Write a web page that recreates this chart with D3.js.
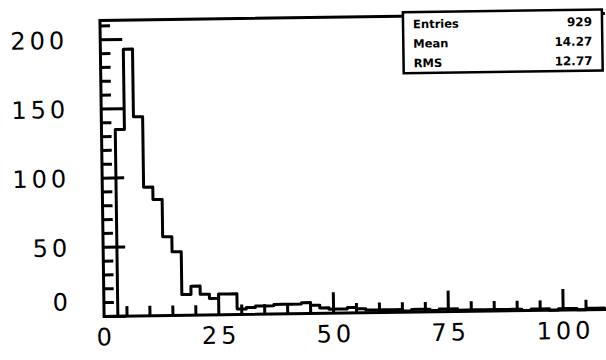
<!DOCTYPE html>
<html>
<head>
<meta charset="utf-8">
<script src="https://cdn.jsdelivr.net/npm/d3@7/dist/d3.min.js"></script>
<style>
  body { margin: 0; background: #fff; }
</style>
</head>
<body>
<div id="chart"></div>
<script>

// histogram: 2-unit bins starting at 3
const binStart = 3;
const binWidth = 2;
const counts = [
  135, 193, 144, 93, 84, 57, 46, 15, 21, 15, 12, 15, 15,
  4, 5, 6, 6, 7, 7, 7, 8, 6, 4,
  3, 3, 4, 3, 2, 2, 2, 2, 1, 2, 2, 1, 2, 2, 1,
  1, 1, 1, 1, 1, 1, 0, 1, 1, 0, 1, 1, 0, 1, 1
];

const xLabels = [0, 25, 50, 75, 100];
const yLabels = [0, 50, 100, 150, 200];

const statNames = ['Entries', 'Mean', 'RMS'];
const statValues = ['929', '14.27', '12.77'];

let width = 606;
let height = 360;
let plotLeft = 102;
let plotRight = 607;
let plotTop = 17;
let plotBottom = 313;

let chart = d3.select('#chart').append('svg')
  .attr('width', width)
  .attr('height', height);

// the scan is a little skewed
let g = chart.append('g')
  .attr('transform', 'rotate(-0.8, 350, 165)');

let x = d3.scaleLinear().domain([0, 110]).range([plotLeft, plotRight]);
let y = d3.scaleLinear().domain([0, 214]).range([plotBottom, plotTop]);

// Frame
g.append('path')
  .attr('d', 'M' + plotRight + ',' + plotTop + 'H' + plotLeft + 'V' + plotBottom + 'H' + plotRight)
  .attr('fill', 'none')
  .attr('stroke', 'black')
  .attr('stroke-width', 3);

// y ticks, pointing into the plot
let yTickVals = d3.range(0, 211, 10);
g.selectAll('.ytick')
  .data(yTickVals)
  .join('path')
  .attr('class', 'ytick')
  .attr('d', v => 'M' + plotLeft + ',' + y(v) + 'h' + (v % 50 === 0 ? 22 : 10))
  .attr('fill', 'none')
  .attr('stroke', 'black')
  .attr('stroke-width', 3);

// x ticks
let xTickVals = d3.range(5, 106, 5);
g.selectAll('.xtick')
  .data(xTickVals)
  .join('path')
  .attr('class', 'xtick')
  .attr('d', v => 'M' + x(v) + ',' + plotBottom + 'v' + (v % 25 === 0 ? -21 : -10))
  .attr('fill', 'none')
  .attr('stroke', 'black')
  .attr('stroke-width', 3);

// y labels
for (let v of yLabels) {
  g.append('text')
    .text(v)
    .attr('x', 70)
    .attr('y', y(v) + (v === 0 ? -15 : 0))
    .attr('dy', '0.36em')
    .attr('text-anchor', 'end')
    .attr('letter-spacing', 4)
    .attr('font-size', 24)
    .attr('font-family', 'DejaVu Sans');
}

// x labels
for (let v of xLabels) {
  g.append('text')
    .text(v)
    .attr('x', x(v) + 2)
    .attr('y', 342)
    .attr('text-anchor', 'middle')
    .attr('letter-spacing', 4)
    .attr('font-size', 24)
    .attr('font-family', 'DejaVu Sans');
}

// histogram outline
let pts = [[binStart, 0]];
for (let i = 0; i < counts.length; i++) {
  pts.push([binStart + i * binWidth, counts[i]]);
}
let lastEdge = binStart + counts.length * binWidth;
pts.push([lastEdge, counts[counts.length - 1]]);
pts.push([lastEdge, 0]);
pts.push([110, 0]);

let makeLine = d3.line()
  .x(d => x(d[0]))
  .y(d => y(d[1]))
  .curve(d3.curveStepAfter);

g.append('path')
  .attr('d', makeLine(pts))
  .attr('fill', 'none')
  .attr('stroke', 'black')
  .attr('stroke-width', 3)
  .attr('stroke-linejoin', 'round');

// stats box
let boxL = 405;
let boxR = 604;
let boxT = plotTop - 4;
let boxB = 74;
g.append('rect')
  .attr('x', boxL)
  .attr('y', boxT)
  .attr('width', boxR - boxL)
  .attr('height', boxB - boxT)
  .attr('fill', 'white')
  .attr('stroke', 'black')
  .attr('stroke-width', 2.5);

for (let i = 0; i < statNames.length; i++) {
  let rowY = boxT + 12 + i * 19.5;
  g.append('text')
    .text(statNames[i])
    .attr('x', boxL + 10)
    .attr('y', rowY)
    .attr('dy', '0.36em')
    .attr('font-size', 11.5)
    .attr('font-weight', 'bold')
    .attr('font-family', 'DejaVu Sans');
  g.append('text')
    .text(statValues[i])
    .attr('x', boxR - 10)
    .attr('y', rowY)
    .attr('dy', '0.36em')
    .attr('text-anchor', 'end')
    .attr('font-size', 12)
    .attr('font-weight', 'bold')
    .attr('font-family', 'DejaVu Sans');
}
</script>
</body>
</html>
